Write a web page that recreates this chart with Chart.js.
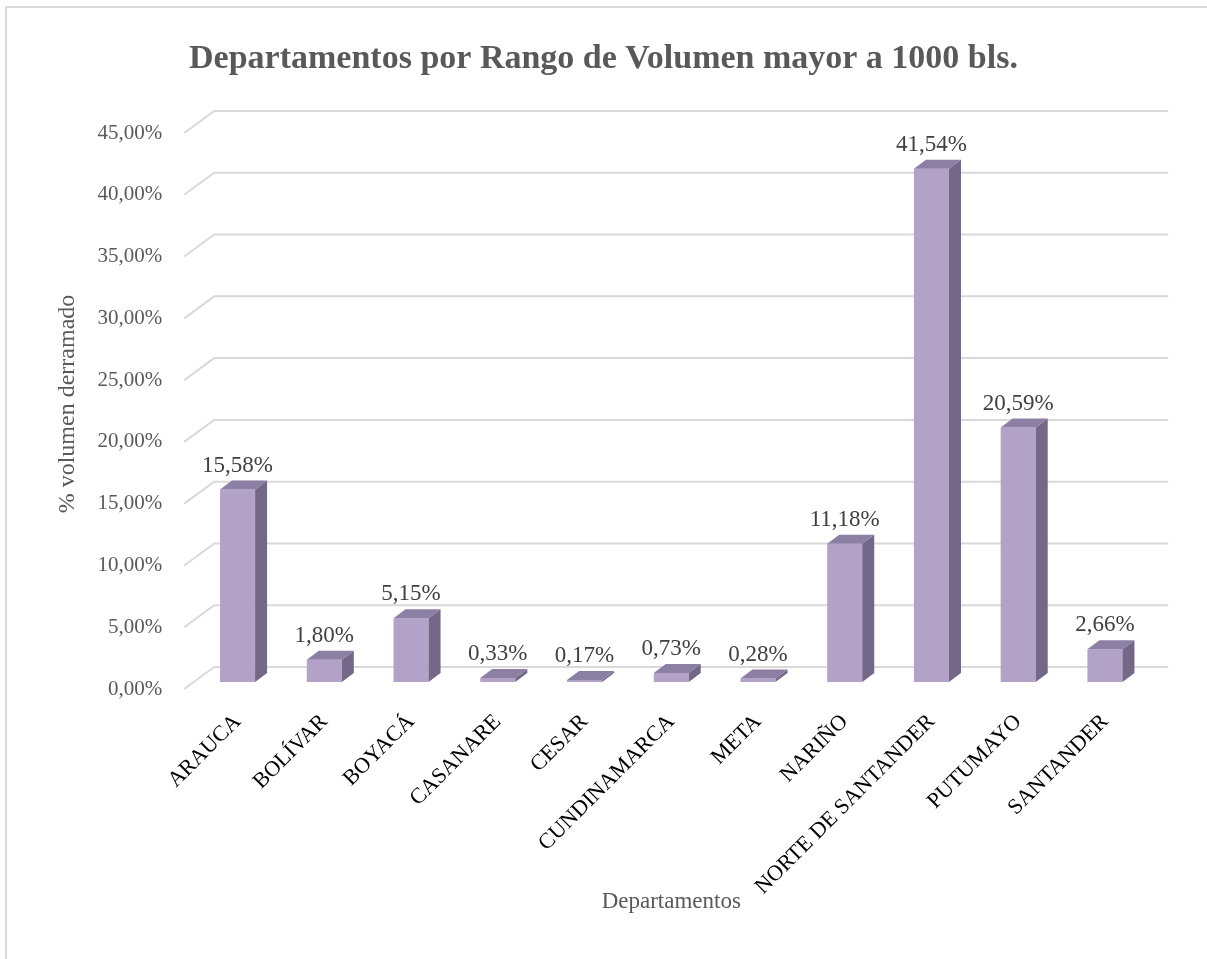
<!DOCTYPE html>
<html>
<head>
<meta charset="utf-8">
<script src="https://cdn.jsdelivr.net/npm/chart.js@4.4.1/dist/chart.umd.min.js"></script>
<style>
  html, body { margin: 0; padding: 0; background: #ffffff; overflow: hidden; }
  #frame { position: absolute; left: 5px; top: 6px; width: 1300px; height: 1100px;
           border-left: 2px solid #d9d9d9; border-top: 2px solid #d9d9d9; }
  #c { position: absolute; left: 0; top: 0; }
</style>
</head>
<body>
<div id="frame"></div>
<canvas id="c" width="1207" height="959"></canvas>
<script>
// ---- data ----
const categories = ['ARAUCA', 'BOLÍVAR', 'BOYACÁ', 'CASANARE', 'CESAR', 'CUNDINAMARCA', 'META', 'NARIÑO', 'NORTE DE SANTANDER', 'PUTUMAYO', 'SANTANDER'];
const values = [15.58, 1.80, 5.15, 0.33, 0.17, 0.73, 0.28, 11.18, 41.54, 20.59, 2.66];
const yTicks = [0, 5, 10, 15, 20, 25, 30, 35, 40, 45];
const chartTitle = 'Departamentos por Rango de Volumen mayor a 1000 bls.';
const xTitle = 'Departamentos';
const yTitle = '% volumen derramado';

const SERIF = "'Liberation Serif', 'Times New Roman', serif";
const fmt = v => v.toFixed(2).replace('.', ',') + '%';

// 3D look plugin: back-wall gridlines, bar sides/tops, value labels
const threeD = {
  id: 'threeD',
  beforeDatasetsDraw(chart) {
    const ctx = chart.ctx, ca = chart.chartArea, ys = chart.scales.y;
    ctx.save();
    ctx.strokeStyle = '#d9d9d9';
    ctx.lineWidth = 2;
    ys.ticks.forEach(t => {
      const py = ys.getPixelForValue(t.value);
      ctx.beginPath();
      ctx.moveTo(ca.left - 10, py + 7);
      ctx.lineTo(ca.left + 20, py - 15);
      ctx.lineTo(ca.right + 20, py - 15);
      ctx.stroke();
    });
    ctx.restore();
  },
  afterDatasetsDraw(chart) {
    const ctx = chart.ctx;
    const meta = chart.getDatasetMeta(0);
    const dx = 12, dy = -9;
    ctx.save();
    meta.data.forEach((el, i) => {
      const p = el.getProps(['x', 'y', 'base', 'width'], true);
      const l = p.x - p.width / 2, r = p.x + p.width / 2;
      // side
      ctx.fillStyle = '#736888';
      ctx.beginPath();
      ctx.moveTo(r, p.y); ctx.lineTo(r + dx, p.y + dy);
      ctx.lineTo(r + dx, p.base + dy); ctx.lineTo(r, p.base);
      ctx.closePath(); ctx.fill();
      // top
      ctx.fillStyle = '#8c7fa4';
      ctx.beginPath();
      ctx.moveTo(l, p.y); ctx.lineTo(l + dx, p.y + dy);
      ctx.lineTo(r + dx, p.y + dy); ctx.lineTo(r, p.y);
      ctx.closePath(); ctx.fill();
      // value label
      ctx.fillStyle = '#404040';
      ctx.font = '23px ' + SERIF;
      ctx.textAlign = 'center';
      ctx.textBaseline = 'alphabetic';
      ctx.fillText(fmt(values[i]), p.x, p.y - 18);
    });
    ctx.restore();
  }
};

new Chart(document.getElementById('c'), {
  type: 'bar',
  data: {
    labels: categories,
    datasets: [{
      data: values,
      backgroundColor: '#b3a2c7',
      borderWidth: 0,
      barPercentage: 0.404,
      categoryPercentage: 1.0
    }]
  },
  options: {
    responsive: false,
    animation: false,
    devicePixelRatio: 1,
    layout: { padding: { left: 58.7, right: 58.7, top: 0, bottom: 0 } },
    plugins: {
      legend: { display: false },
      tooltip: { enabled: false },
      title: {
        display: true,
        text: chartTitle,
        color: '#595959',
        font: { family: SERIF, size: 34, weight: 'bold' },
        padding: { top: 39, bottom: 46.2 }
      }
    },
    scales: {
      x: {
        grid: { display: false, drawTicks: false },
        border: { display: false },
        ticks: {
          color: '#000000',
          font: { family: SERIF, size: 22 },
          minRotation: 45, maxRotation: 45,
          autoSkip: false,
          padding: 27
        },
        title: {
          display: true, text: xTitle, color: '#595959',
          font: { family: SERIF, size: 23 },
          padding: { top: 0, bottom: 43 }
        },
        afterFit(s) { s.height = 277; }
      },
      y: {
        min: 0, max: 45,
        afterBuildTicks(s) { s.ticks = yTicks.map(v => ({ value: v })); },
        grid: { display: false, drawTicks: false },
        border: { display: false },
        ticks: {
          color: '#595959',
          font: { family: SERIF, size: 21 },
          labelOffset: 7,
          padding: 32,
          callback: v => fmt(v)
        },
        title: {
          display: true, text: yTitle, color: '#595959',
          font: { family: SERIF, size: 24 },
          padding: { top: -5.1, bottom: 0 }
        },
        afterFit(s) { s.width = 135.5; }
      }
    }
  },
  plugins: [threeD]
});
</script>
</body>
</html>
